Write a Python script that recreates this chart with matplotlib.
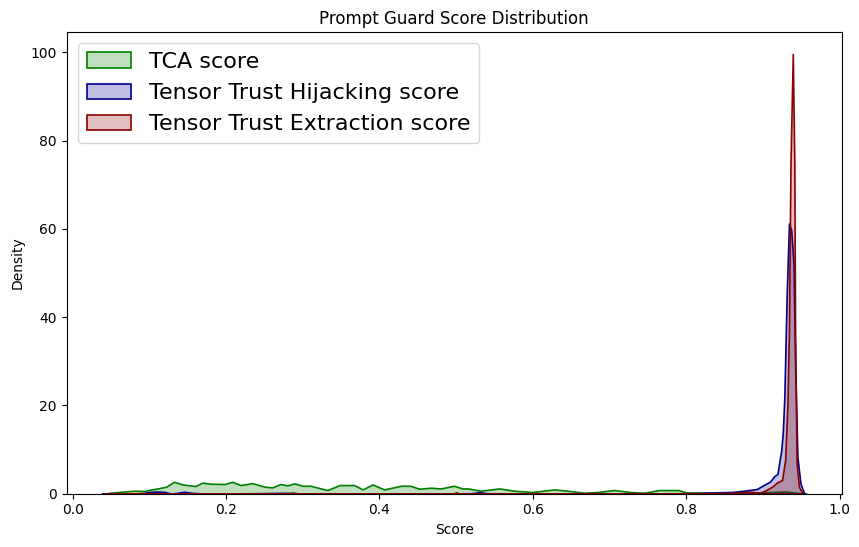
import matplotlib
matplotlib.use('Agg')
import matplotlib.pyplot as plt

# density curves (score, density)
tca_x = [0.038, 0.060, 0.080, 0.095, 0.100, 0.111, 0.122, 0.132, 0.143, 0.160, 0.169,
         0.180, 0.198, 0.208, 0.219, 0.234, 0.250, 0.260, 0.271, 0.280, 0.289, 0.300,
         0.310, 0.332, 0.348, 0.367, 0.378, 0.391, 0.406, 0.428, 0.440, 0.452, 0.467,
         0.480, 0.497, 0.508, 0.515, 0.532, 0.556, 0.576, 0.599, 0.628, 0.645, 0.667,
         0.684, 0.706, 0.727, 0.745, 0.765, 0.790, 0.800, 0.818, 0.840, 0.870, 0.900,
         0.930, 0.945, 0.957]
tca_y = [0.0, 0.4, 0.68, 0.62, 0.9, 1.2, 1.6, 2.7, 2.1, 1.74, 2.5,
         2.26, 2.2, 2.7, 1.96, 2.4, 1.6, 1.43, 2.2, 1.9, 2.34, 1.8,
         1.8, 0.83, 1.96, 1.96, 0.98, 2.1, 0.98, 1.8, 1.8, 1.13, 1.36,
         1.2, 1.8, 1.2, 1.2, 0.68, 1.2, 0.68, 0.38, 0.98, 0.68, 0.23,
         0.38, 0.83, 0.38, 0.23, 0.83, 0.83, 0.3, 0.23, 0.2, 0.3, 0.3,
         0.5, 0.2, 0.0]

hij_x = [0.038, 0.050, 0.070, 0.090, 0.100, 0.110, 0.120, 0.128, 0.137, 0.145, 0.155,
         0.170, 0.200, 0.280, 0.300, 0.400, 0.520, 0.530, 0.540, 0.600, 0.700, 0.800,
         0.836, 0.860, 0.875, 0.892, 0.901, 0.909, 0.915, 0.919, 0.924, 0.926, 0.928,
         0.931, 0.934, 0.937, 0.940, 0.942, 0.945, 0.949, 0.954]
hij_y = [0.0, 0.1, 0.05, 0.1, 0.4, 0.5, 0.4, 0.05, 0.2, 0.45, 0.2,
         0.05, 0.05, 0.2, 0.05, 0.05, 0.1, 0.35, 0.1, 0.05, 0.05, 0.1,
         0.3, 0.4, 0.68, 1.06, 1.96, 2.7, 4.0, 4.5, 9.9, 14.0, 22.0,
         44.6, 61.2, 59.7, 52.0, 29.5, 8.4, 2.3, 0.0]

ext_x = [0.040, 0.050, 0.060, 0.075, 0.090, 0.100, 0.110, 0.130, 0.200, 0.280, 0.287,
         0.295, 0.400, 0.495, 0.500, 0.505, 0.600, 0.700, 0.800, 0.850, 0.870, 0.883,
         0.896, 0.904, 0.912, 0.918, 0.925, 0.929, 0.932, 0.934, 0.936, 0.939, 0.941,
         0.942, 0.944, 0.947, 0.952]
ext_y = [0.0, 0.15, 0.05, 0.05, 0.15, 0.1, 0.05, 0.02, 0.02, 0.02, 0.25,
         0.02, 0.02, 0.02, 0.3, 0.02, 0.05, 0.05, 0.1, 0.15, 0.3, 0.45,
         0.2, 0.8, 1.6, 2.5, 3.1, 7.6, 20.0, 37.0, 74.7, 99.6, 74.7,
         37.0, 6.9, 1.6, 0.0]

series = [
    ('TCA score', tca_x, tca_y, 'green'),
    ('Tensor Trust Hijacking score', hij_x, hij_y, 'darkblue'),
    ('Tensor Trust Extraction score', ext_x, ext_y, 'darkred'),
]

fig = plt.figure(figsize=(8.59, 5.47), dpi=100)
ax = fig.add_axes([0.0776, 0.0974, 0.9024, 0.8441])

for label, xs, ys, color in series:
    ax.fill_between(xs, ys, facecolor=matplotlib.colors.to_rgba(color, 0.25),
                    edgecolor=color, linewidth=1.2, label=label)

ax.set_ylim(bottom=0)
ax.set_title('Prompt Guard Score Distribution')
ax.set_xlabel('Score')
ax.set_ylabel('Density')
ax.legend(loc='upper left', fontsize=16)

fig.savefig('out.png', dpi=100)
